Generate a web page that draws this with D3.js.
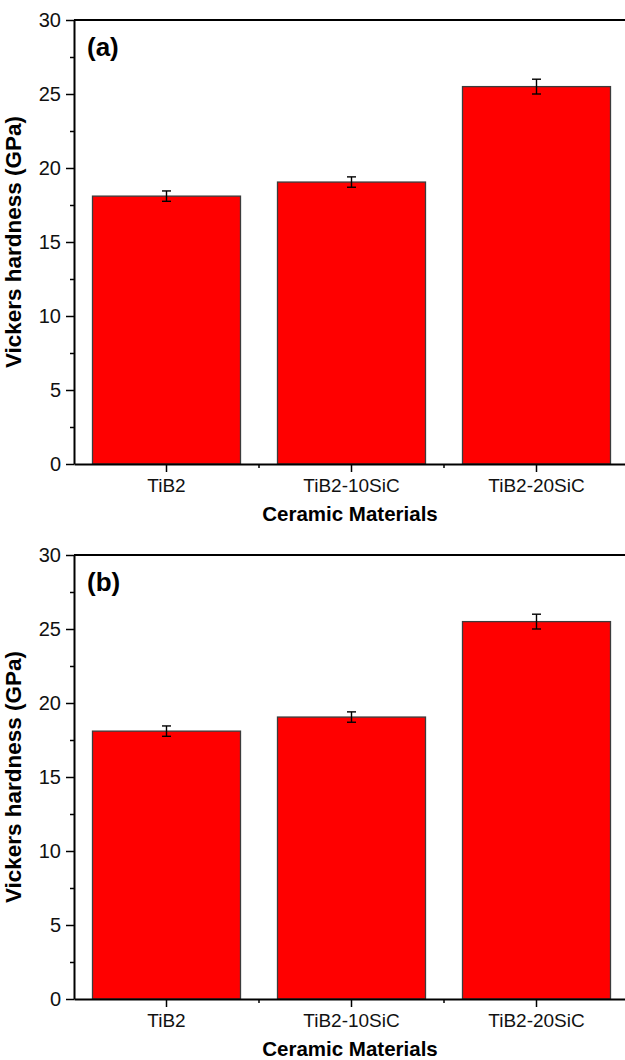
<!DOCTYPE html>
<html>
<head>
<meta charset="utf-8">
<script src="https://cdn.jsdelivr.net/npm/d3@7"></script>
<style>
  body { margin: 0; background: #fff; }
  svg text { font-family: "Liberation Sans", Arial, sans-serif; }
</style>
</head>
<body>
<div id="chart"></div>
<script>
// dữ liệu
const categories = ["TiB2", "TiB2-10SiC", "TiB2-20SiC"];
const hardnessA = [18.1, 19.05, 25.5];
const errorA = [0.35, 0.35, 0.5];
const hardnessB = [18.1, 19.05, 25.5];
const errorB = [0.35, 0.35, 0.5];
const panelLabels = ["(a)", "(b)"];
const yTicks = [0, 5, 10, 15, 20, 25, 30];
const yMinorTicks = [2.5, 7.5, 12.5, 17.5, 22.5, 27.5];

const W = 625, H = 1060;
const svg = d3.select("#chart").append("svg")
    .attr("width", W)
    .attr("height", H);

const panelH = 444;
const left = 74, right = 629;

const x = d3.scaleBand()
    .domain(categories)
    .range([left, right])
    .paddingInner(0.2)
    .paddingOuter(0.1);

function drawPanel(top, values, errors, label) {
    const g = svg.append("g");
    const y = d3.scaleLinear().domain([0, 30]).range([top + panelH, top]);

    // khung trên
    g.append("line")
        .attr("x1", left).attr("x2", right)
        .attr("y1", y(30)).attr("y2", y(30))
        .attr("stroke", "#000").attr("stroke-width", 2);
    g.append("line")
        .attr("x1", right).attr("x2", right)
        .attr("y1", y(30)).attr("y2", y(0))
        .attr("stroke", "#000").attr("stroke-width", 2);

    // cột
    g.selectAll(".bar")
        .data(categories)
        .enter()
        .append("rect")
        .attr("x", d => x(d))
        .attr("y", (d, i) => y(values[i]))
        .attr("width", x.bandwidth())
        .attr("height", (d, i) => y(0) - y(values[i]))
        .attr("fill", "#ff0000")
        .attr("stroke", "#3c3c3c")
        .attr("stroke-width", 1.3);

    // thanh sai số
    const eb = g.selectAll(".err")
        .data(categories)
        .enter()
        .append("g")
        .attr("stroke", "#000")
        .attr("stroke-width", 1.4);
    eb.append("line")
        .attr("x1", d => x(d) + x.bandwidth() / 2)
        .attr("x2", d => x(d) + x.bandwidth() / 2)
        .attr("y1", (d, i) => y(values[i] + errors[i]))
        .attr("y2", (d, i) => y(values[i] - errors[i]));
    eb.append("line")
        .attr("x1", d => x(d) + x.bandwidth() / 2 - 4.5)
        .attr("x2", d => x(d) + x.bandwidth() / 2 + 4.5)
        .attr("y1", (d, i) => y(values[i] + errors[i]))
        .attr("y2", (d, i) => y(values[i] + errors[i]));
    eb.append("line")
        .attr("x1", d => x(d) + x.bandwidth() / 2 - 4.5)
        .attr("x2", d => x(d) + x.bandwidth() / 2 + 4.5)
        .attr("y1", (d, i) => y(values[i] - errors[i]))
        .attr("y2", (d, i) => y(values[i] - errors[i]));

    // trục y
    const yAxis = g.append("g")
        .attr("transform", `translate(${left},0)`)
        .call(d3.axisLeft(y).tickValues(yTicks).tickSize(8).tickPadding(5).tickSizeOuter(0));
    yAxis.select(".domain").attr("stroke-width", 2);
    yAxis.selectAll(".tick line").attr("stroke-width", 1.5);
    yAxis.selectAll("text").attr("font-size", 20).attr("fill", "#111");

    const yMinor = g.append("g")
        .attr("transform", `translate(${left},0)`)
        .call(d3.axisLeft(y).tickValues(yMinorTicks).tickSize(4).tickFormat("").tickSizeOuter(0));
    yMinor.select(".domain").remove();
    yMinor.selectAll(".tick line").attr("stroke-width", 1.5);

    // trục x
    const xAxis = g.append("g")
        .attr("transform", `translate(0,${y(0)})`)
        .call(d3.axisBottom(x).tickSize(8).tickPadding(7).tickSizeOuter(0));
    xAxis.select(".domain").attr("stroke-width", 2);
    xAxis.selectAll(".tick line").attr("stroke-width", 1.5);
    xAxis.selectAll("text").attr("font-size", 19).attr("fill", "#111");

    // vạch phụ trục x nằm giữa các nhóm
    g.selectAll(".xminor")
        .data(categories.slice(1))
        .enter()
        .append("line")
        .attr("x1", d => x(d) - x.step() * x.paddingInner() / 2)
        .attr("x2", d => x(d) - x.step() * x.paddingInner() / 2)
        .attr("y1", y(0))
        .attr("y2", y(0) + 4)
        .attr("stroke", "#000")
        .attr("stroke-width", 1.5);

    // nhãn trục
    g.append("text")
        .attr("transform", `translate(21,${(y(0) + y(30)) / 2}) rotate(-90)`)
        .attr("text-anchor", "middle")
        .attr("font-size", 22.5)
        .attr("font-weight", "bold")
        .text("Vickers hardness (GPa)");

    g.append("text")
        .attr("x", 350)
        .attr("y", y(0) + 57)
        .attr("text-anchor", "middle")
        .attr("font-size", 20.5)
        .attr("font-weight", "bold")
        .text("Ceramic Materials");

    g.append("text")
        .attr("x", 87)
        .attr("y", top + 36)
        .attr("font-size", 26)
        .attr("font-weight", "bold")
        .text(label);
}

drawPanel(20, hardnessA, errorA, panelLabels[0]);
drawPanel(555, hardnessB, errorB, panelLabels[1]);
</script>
</body>
</html>
